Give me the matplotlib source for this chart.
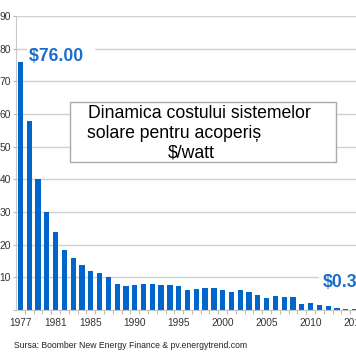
import matplotlib
matplotlib.use("Agg")
import matplotlib.pyplot as plt
from matplotlib.patches import Rectangle

plt.rcParams['font.family'] = ['Liberation Sans', 'DejaVu Sans']

years = list(range(1977, 2016))
cost = [76.0, 58.0, 40.0, 30.0, 24.0, 18.3, 15.9, 13.9, 12.0, 11.2,
        10.0, 8.0, 7.3, 7.8, 8.0, 8.0, 7.8, 7.8, 7.3, 6.0,
        6.4, 6.8, 6.8, 6.0, 5.6, 6.0, 5.6, 4.6, 3.8, 4.3,
        4.1, 4.1, 1.9, 2.0, 1.6, 1.1, 0.7, 0.4, 0.3]
tick_years = [1977, 1981, 1985, 1990, 1995, 2000, 2005, 2010, 2015]
yticks = [10, 20, 30, 40, 50, 60, 70, 80, 90]
title_lines = ["Dinamica costului sistemelor", "solare pentru acoperiș", "$/watt"]
first_label = "$76.00"
last_label = "$0.30"
source = "Sursa: Boomber New Energy Finance & pv.energytrend.com"

W, H = 356, 364
bar_color = '#0066cc'
label_color = '#1a6dcc'

fig = plt.figure(figsize=(W / 100, H / 100), dpi=100)
# axes runs past the right edge, chart is cropped like the original
ax = fig.add_axes([16 / W, 54 / H, (359 - 16) / W, 294 / H])

pos = [y - years[0] for y in years]
ax.bar(pos, cost, width=0.6, color=bar_color, zorder=2)
ax.set_xlim(-0.5, len(years) - 0.5)
ax.set_ylim(0, 90)

ax.set_yticks([0] + yticks)
ax.set_yticklabels([''] + [str(t) for t in yticks])
ax.set_xticks([y - years[0] for y in tick_years])
ax.set_xticklabels([str(t) for t in tick_years])
ax.set_xticks([p + 0.5 for p in pos[:-1]], minor=True)
ax.tick_params(axis='x', which='major', length=0, pad=6, labelsize=7.3, labelcolor='#333333')
ax.tick_params(axis='x', which='minor', length=3, color='#bbbbbb', width=0.8)
ax.tick_params(axis='y', length=2, color='#bbbbbb', width=0.8, pad=1.5, labelsize=7.4, labelcolor='#333333')

ax.grid(axis='y', color='#d0d0d0', linewidth=1.0, zorder=0)
ax.set_axisbelow(True)
for s in ['top', 'right']:
    ax.spines[s].set_visible(False)
ax.spines['left'].set_color('#c8c8c8')
ax.spines['bottom'].set_color('#c8c8c8')

ax.text(0.95, 77.5, first_label + "  ", fontsize=12.7, fontweight='bold', color=label_color,
        va='center', ha='left', zorder=3,
        bbox=dict(facecolor='white', edgecolor='none', pad=1.5))
ax.text(34.4, 8.35, last_label, fontsize=12.7, fontweight='bold', color=label_color,
        va='center', ha='left', zorder=3,
        bbox=dict(facecolor='white', edgecolor='none', pad=3))

# title box
fig.add_artist(Rectangle((70 / W, 1 - 162 / H), (336 - 70) / W, (162 - 102) / H,
                         transform=fig.transFigure, facecolor='white',
                         edgecolor='#aaaaaa', linewidth=1.0))
for txt, x, y in zip(title_lines, [88, 86.7, 168], [113, 133, 153]):
    fig.text(x / W, 1 - y / H, txt, fontsize=12.7, color='black', va='center', ha='left')

fig.text(14 / W, 1 - 346 / H, source, fontsize=6.2, color='#222222', va='center', ha='left')

fig.savefig('out.png', dpi=100)
